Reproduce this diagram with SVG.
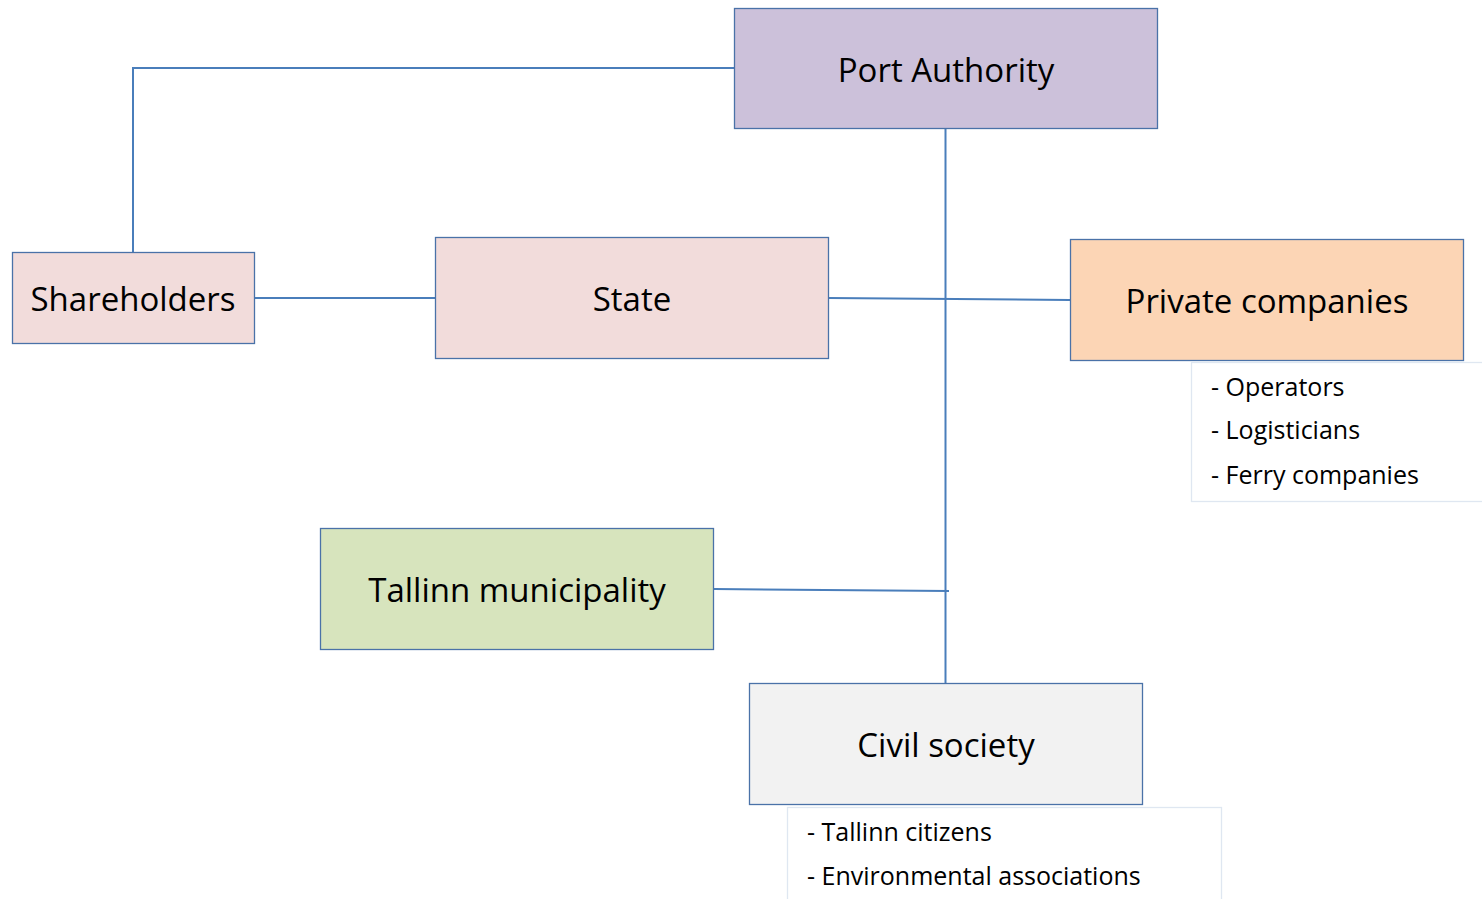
<svg xmlns="http://www.w3.org/2000/svg" width="1482" height="899" viewBox="0 0 1482 899">
<style>
.box{stroke:#4a72a8;stroke-width:1.3}
.lbl{font-family:"Open Sans","Liberation Sans",sans-serif;font-size:33px;fill:#000;text-anchor:middle;dominant-baseline:central}
.item{font-family:"Open Sans","Liberation Sans",sans-serif;font-size:25px;fill:#000}
.list{fill:#fff;stroke:#dfe7f1;stroke-width:1.3}
.con{fill:none;stroke:#4a7ebb;stroke-width:2}
</style>
<rect width="1482" height="899" fill="#fff"/>
<g id="connectors">
<polyline class="con" points="133,252 133,68 734,68"/>
<line class="con" x1="254" y1="298" x2="435" y2="298"/>
<line class="con" x1="829" y1="298" x2="1070" y2="300"/>
<line class="con" x1="945.5" y1="128" x2="945.5" y2="683"/>
<line class="con" x1="714" y1="589" x2="949" y2="591"/>
</g>
<g id="port-authority">
<rect class="box" x="734.5" y="8.5" width="423" height="120" fill="#ccc1da"/>
<text class="lbl" x="946" y="69">Port Authority</text>
</g>
<g id="shareholders">
<rect class="box" x="12.5" y="252.5" width="242" height="91" fill="#f2dcdb"/>
<text class="lbl" x="133" y="298">Shareholders</text>
</g>
<g id="state">
<rect class="box" x="435.5" y="237.5" width="393" height="121" fill="#f2dcdb"/>
<text class="lbl" x="632" y="298">State</text>
</g>
<g id="private-companies">
<rect class="box" x="1070.5" y="239.5" width="393" height="121" fill="#fcd5b5"/>
<text class="lbl" x="1267" y="300">Private companies</text>
<rect class="list" x="1191.5" y="362.5" width="300" height="139"/>
<text class="item" x="1211" y="396">- Operators</text>
<text class="item" x="1211" y="439">- Logisticians</text>
<text class="item" x="1211" y="484">- Ferry companies</text>
</g>
<g id="tallinn-municipality">
<rect class="box" x="320.5" y="528.5" width="393" height="121" fill="#d7e4bd"/>
<text class="lbl" x="517" y="589">Tallinn municipality</text>
</g>
<g id="civil-society">
<rect class="box" x="749.5" y="683.5" width="393" height="121" fill="#f2f2f2"/>
<text class="lbl" x="946" y="744">Civil society</text>
<rect class="list" x="787.5" y="807.5" width="434" height="100"/>
<text class="item" x="807" y="841">- Tallinn citizens</text>
<text class="item" x="807" y="885">- Environmental associations</text>
</g>
</svg>
